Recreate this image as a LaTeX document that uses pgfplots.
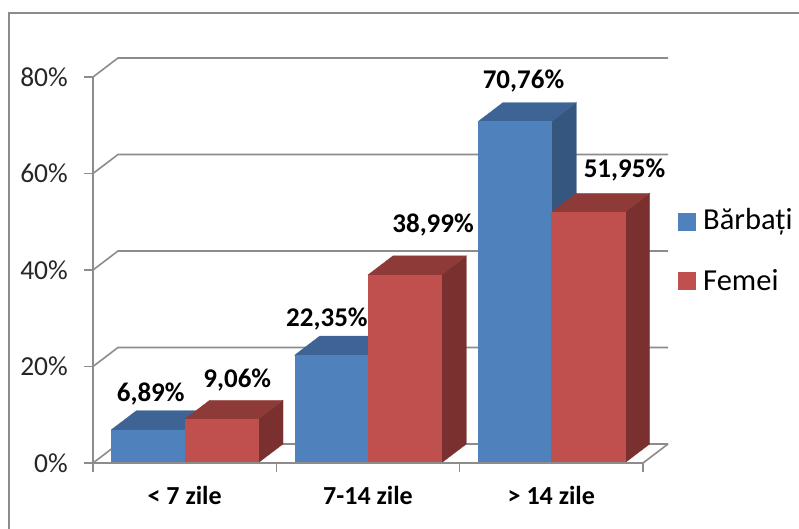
\documentclass[border=0pt]{standalone}
\usepackage{fontspec}
\setmainfont{Carlito}
\usepackage{pgfplots}
\usepackage{pgfplotstable}
\pgfplotsset{compat=1.18}

\definecolor{blueF}{HTML}{4F81BD}
\definecolor{blueT}{HTML}{3D6494}
\definecolor{blueS}{HTML}{35577F}
\definecolor{redF}{HTML}{C0504D}
\definecolor{redT}{HTML}{8E3A38}
\definecolor{redS}{HTML}{7A302E}
\definecolor{gridc}{HTML}{8C8C8C}

% share of cases by duration, per sex (percent)
\pgfplotstableread{
x men women
0 6.89 9.06
1 22.35 38.99
2 70.76 51.95
}\durata

% depth of the 3D box in axis units (x: 183.33pt per unit, y: 4.825pt per percent)
\def\dx{0.1364}
\def\dy{3.94}

% one 3D column: #1 left edge, #2 value, #3 front, #4 top, #5 side colour
\newcommand{\columnbox}[5]{%
  \pgfmathsetmacro{\xa}{#1}%
  \pgfmathsetmacro{\xb}{#1+0.4}%
  \pgfmathsetmacro{\xc}{#1+0.4+\dx}%
  \pgfmathsetmacro{\xd}{#1+\dx}%
  \pgfmathsetmacro{\vv}{#2}%
  \pgfmathsetmacro{\vt}{#2+\dy}%
  \addplot[fill=#5, draw=#5, line width=0.3pt] coordinates {(\xb,0) (\xc,\dy) (\xc,\vt) (\xb,\vv)} -- cycle;
  \addplot[fill=#4, draw=#4, line width=0.3pt] coordinates {(\xa,\vv) (\xb,\vv) (\xc,\vt) (\xd,\vt)} -- cycle;
  \addplot[fill=#3, draw=#3, line width=0.3pt] coordinates {(\xa,0) (\xb,0) (\xb,\vv) (\xa,\vv)} -- cycle;
}

\begin{document}
\begin{tikzpicture}
  % back wall and side wall gridlines
  \foreach \g in {0,20,40,60,80} {
    \draw[gridc, line width=1.6pt] (0pt,{\g*4.825pt}) -- (25pt,{\g*4.825pt+19pt}) -- (575pt,{\g*4.825pt+19pt});
  }

  \begin{axis}[
    at={(0pt,0pt)}, anchor=south west,
    scale only axis, width=550pt, height=386pt,
    xmin=0, xmax=3, ymin=0, ymax=80,
    clip=false,
    axis line style={draw=none},
    major tick style={draw=none},
    minor tick style={draw=none},
    ytick={0,20,40,60,80},
    yticklabels={0\%,20\%,40\%,60\%,80\%},
    xtick={0.5,1.5,2.5},
    xticklabels={< 7 zile,7-14 zile,> 14 zile},
    yticklabel style={anchor=east, inner sep=0pt, xshift=-25pt,
      font=\fontsize{27.5}{32}\selectfont, text=black!85},
    xticklabel style={anchor=base, inner sep=0pt, yshift=-42pt,
      font=\bfseries\fontsize{26}{30}\selectfont},
    /pgf/number format/assume math mode=true,
  ]
    \pgfplotsinvokeforeach{0,1,2}{
      \pgfplotstablegetelem{#1}{men}\of\durata
      \let\vmen\pgfplotsretval
      \pgfplotstablegetelem{#1}{women}\of\durata
      \let\vwomen\pgfplotsretval
      \columnbox{#1+0.1}{\vmen}{blueF}{blueT}{blueS}
      \columnbox{#1+0.5}{\vwomen}{redF}{redT}{redS}
    }

    % value labels
    \begin{scope}[every node/.style={anchor=base, inner sep=0pt,
        font=\bfseries\fontsize{27}{32}\selectfont}]
      \node[yshift=27.8pt] at (axis cs:0.315,6.89) {6,89\%};
      \node[yshift=31.3pt] at (axis cs:0.787,9.06) {9,06\%};
      \node[yshift=28.2pt] at (axis cs:1.276,22.35) {22,35\%};
      \node[yshift=41.9pt] at (axis cs:1.855,38.99) {38,99\%};
      \node[yshift=32.6pt] at (axis cs:2.348,70.76) {70,76\%};
      \node[yshift=35.3pt] at (axis cs:2.899,51.95) {51,95\%};
    \end{scope}
  \end{axis}

  % front edges of the box and outward ticks
  \draw[gridc, line width=1.6pt] (0pt,386pt) -- (0pt,0pt) -- (550pt,0pt) -- (575pt,19pt);
  \foreach \g in {0,20,40,60,80} {
    \draw[gridc, line width=1.6pt] (-9pt,{\g*4.825pt}) -- (0pt,{\g*4.825pt});
  }
  \foreach \t in {0,1,2,3} {
    \draw[gridc, line width=1.6pt] ({\t*183.333pt},0pt) -- ({\t*183.333pt},-9pt);
  }

  % legend
  \fill[blueF] (585pt,232pt) rectangle (603pt,250pt);
  \fill[redF] (585pt,173pt) rectangle (603pt,191pt);
  \node[anchor=base west, inner sep=0pt, font=\fontsize{30.5}{36}\selectfont] at (610pt,233pt) {Bărbați};
  \node[anchor=base west, inner sep=0pt, font=\fontsize{30.5}{36}\selectfont] at (610pt,172pt) {Femei};

  % chart frame
  \draw[gridc, line width=1.6pt] (-84pt,-90pt) rectangle (730pt,450pt);

  \pgfresetboundingbox
  \path[use as bounding box] (-93pt,-66pt) rectangle (706pt,463pt);
\end{tikzpicture}
\end{document}
